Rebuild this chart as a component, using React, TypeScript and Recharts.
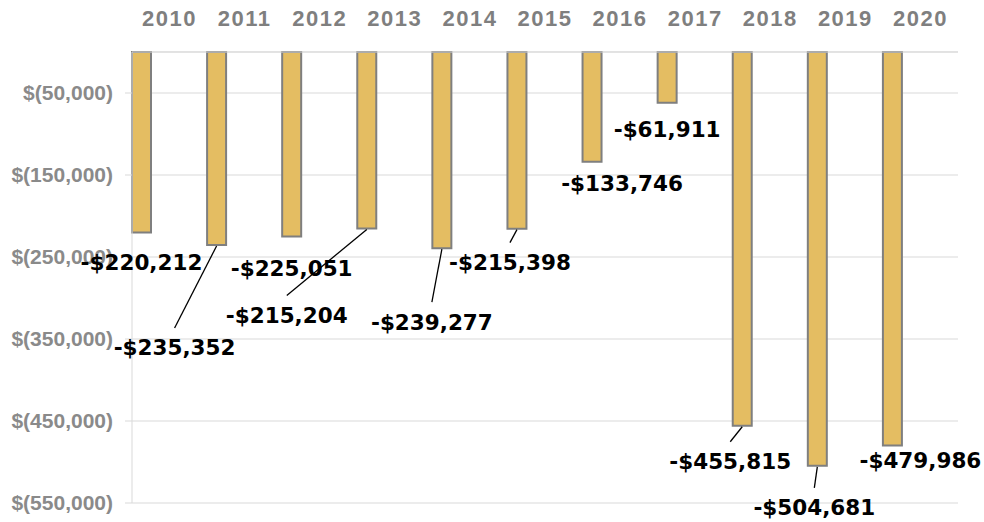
import React from "react";
import { BarChart, Bar, XAxis, YAxis, CartesianGrid, LabelList } from "recharts";

const years = ["2010", "2011", "2012", "2013", "2014", "2015", "2016", "2017", "2018", "2019", "2020"];
const netValues = [-220212, -235352, -225051, -215204, -239277, -215398, -133746, -61911, -455815, -504681, -479986];
const yTicks = [-50000, -150000, -250000, -350000, -450000, -550000];

// label placement (offset from bar end to label centre) and leader-line flags
const LABEL_DX = [0, -42, 0, -80, -10, -7, 30, 0, -12, -3, 28];
const LABEL_DY = [30, 103, 32, 87, 74, 34, 22, 27, 36, 42, 15];
const LEADER = [false, true, false, true, true, true, false, false, true, true, false];

const data = years.map((y, i) => ({ year: y, value: netValues[i] }));

const fmtMoney = (v: number) => {
  const s = Math.abs(v).toLocaleString("en-US");
  return v < 0 ? `-$${s}` : `$${s}`;
};
const fmtTick = (v: number) => `$(${Math.abs(v).toLocaleString("en-US")})`;

const DataLabel = (props: any) => {
  const { x, y, width, height, value, index } = props;
  const cx = Number(x) + Number(width) / 2;
  const bottom = Math.max(Number(y), Number(y) + Number(height));
  const tx = cx + LABEL_DX[index];
  const ty = bottom + LABEL_DY[index];
  return (
    <g>
      {LEADER[index] && (
        <line x1={cx} y1={bottom + 1} x2={tx} y2={ty - 20} stroke="#000" strokeWidth={1.3} />
      )}
      <text
        x={tx}
        y={ty}
        textAnchor="middle"
        dominantBaseline="central"
        fontFamily="'DejaVu Sans', Verdana, sans-serif"
        fontWeight="bold"
        fontSize={21.5}
        fill="#000"
      >
        {fmtMoney(value)}
      </text>
    </g>
  );
};

export default function App() {
  return (
    <div style={{ position: "absolute", left: 0, top: 0, background: "#fff" }}>
      <BarChart
        width={984}
        height={522}
        data={data}
        margin={{ top: 0, right: 26, bottom: 19, left: 0 }}
        barCategoryGap={0}
        barGap={0}
      >
        <CartesianGrid vertical={false} stroke="#D9D9D9" strokeWidth={1} />
        <XAxis
          dataKey="year"
          orientation="top"
          height={52}
          axisLine={{ stroke: "#D9D9D9" }}
          tickLine={false}
          tickMargin={20}
          interval={0}
          tick={{ fill: "#7F7F7F", fontSize: 22, fontWeight: "bold", fontFamily: "'Liberation Sans', Arial, sans-serif", letterSpacing: 1.5 }}
        />
        <YAxis
          type="number"
          domain={[-550000, 0]}
          ticks={yTicks}
          width={132}
          tickFormatter={fmtTick}
          axisLine={{ stroke: "#D9D9D9" }}
          tickLine={{ stroke: "#D9D9D9" }}
          tickSize={7}
          tickMargin={12}
          tick={{ fill: "#8A8A8A", fontSize: 21, fontWeight: "bold", fontFamily: "'Liberation Sans', Arial, sans-serif" }}
        />
        <Bar dataKey="value" fill="#E4BD62" stroke="#7F7F7F" strokeWidth={2} isAnimationActive={false}>
          <LabelList dataKey="value" content={<DataLabel />} />
        </Bar>
        <Bar dataKey="s2" fill="none" isAnimationActive={false} />
        <Bar dataKey="s3" fill="none" isAnimationActive={false} />
        <Bar dataKey="s4" fill="none" isAnimationActive={false} />
      </BarChart>
    </div>
  );
}
